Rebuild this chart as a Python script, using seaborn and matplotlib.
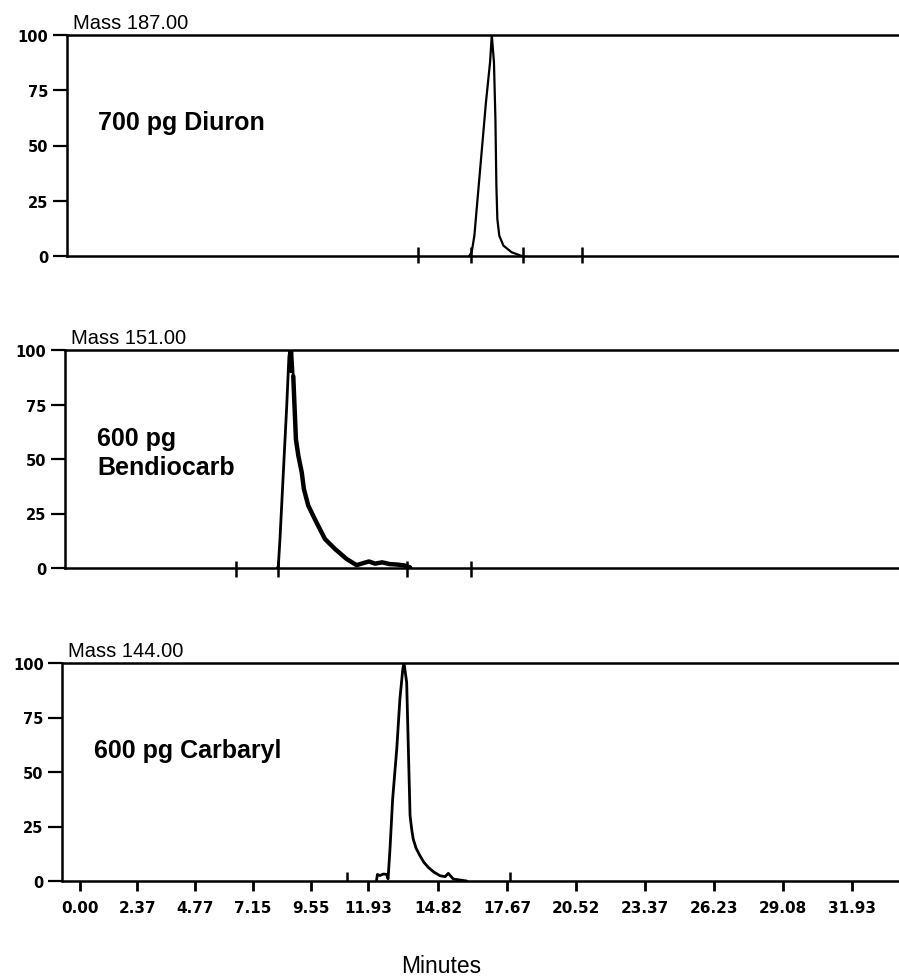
import matplotlib
matplotlib.use("Agg")
import matplotlib.pyplot as plt
import numpy as np
import pandas as pd
import seaborn as sns

# ---------------- data (minutes, relative abundance %) ----------------
diuron_t = [16.10, 16.20, 16.31, 16.43, 16.61, 16.79, 16.96, 17.03, 17.12,
            17.18, 17.22, 17.26, 17.34, 17.51, 17.85, 18.27]
diuron_i = [0, 1.8, 9.2, 24.4, 47, 69.7, 87.8, 100, 87.6,
            62, 31.8, 16.7, 9.2, 4.7, 1.7, 0.0]

bendio_t = [8.15, 8.20, 8.27, 8.41, 8.55, 8.64, 8.68, 8.72, 8.76,
            8.82, 8.88, 8.93, 9.03, 9.17, 9.26, 9.44, 9.78, 10.13, 10.55,
            11.03, 11.44, 11.70, 11.95, 12.20, 12.50, 12.80, 13.10, 13.40, 13.65]
bendio_i = [0, 0.5, 13.3, 43.9, 74.5, 97, 100, 90, 100,
            88, 72, 59, 51.5, 43.9, 36.2, 28.6, 20.9, 13.3, 8.7,
            4.1, 1.3, 2.2, 3.0, 2.0, 2.6, 1.8, 1.6, 1.2, 0.3]

carb_t = [12.26, 12.30, 12.40, 12.55, 12.68, 12.74, 12.82, 12.93, 13.10,
          13.23, 13.35, 13.40, 13.51, 13.58, 13.65, 13.72, 13.78, 13.90, 14.06,
          14.22, 14.40, 14.62, 14.89, 15.10, 15.23, 15.44, 15.99]
carb_i = [0, 3.0, 2.5, 3.2, 3.0, 1.0, 14.7, 37.6, 60.6,
          83.5, 97.2, 100, 91.1, 60.6, 30, 23.5, 19.3, 15.0, 11.6,
          8.6, 6.3, 4.2, 2.4, 2.0, 3.5, 0.9, 0]

# scan markers drawn across the baseline
top_marks = [13.99, 16.17, 18.33, 20.77]
mid_marks = [6.45, 8.18, 13.51, 16.17]
bot_marks = [11.03, 17.80]

titles = ["Mass 187.00", "Mass 151.00", "Mass 144.00"]
y_ticks = [0, 25, 50, 75, 100]
y_labels = ["0", "25", "50", "75", "100"]
x_ticks = [0.00, 2.37, 4.77, 7.15, 9.55, 11.93, 14.82, 17.67, 20.52, 23.37, 26.23, 29.08, 31.93]
x_labels = ["0.00", "2.37", "4.77", "7.15", "9.55", "11.93", "14.82", "17.67",
            "20.52", "23.37", "26.23", "29.08", "31.93"]

# ---------------- style ----------------
sns.set_theme(style="ticks")
plt.rcParams["font.family"] = ["Liberation Sans", "DejaVu Sans"]
plt.rcParams["text.color"] = "black"
plt.rcParams["axes.edgecolor"] = "black"
plt.rcParams["xtick.color"] = "black"
plt.rcParams["ytick.color"] = "black"

W, H = 899, 978
fig = plt.figure(figsize=(W / 100, H / 100), dpi=100)

zero_px = 80.0
px_per_min = 24.18
right_min = (W - zero_px) / px_per_min

# (left_px, top_px, bottom_px)
layout = [(67, 36, 257), (65, 351, 569), (62.5, 664, 882)]
series = [(diuron_t, diuron_i), (bendio_t, bendio_i), (carb_t, carb_i)]

axes = []
for k, ((lp, tp, bp), (t, i)) in enumerate(zip(layout, series)):
    ax = fig.add_axes([lp / W, 1 - bp / H, (W - lp) / W, (bp - tp) / H])
    axes.append(ax)
    df = pd.DataFrame({"t": t, "i": i})
    sns.lineplot(data=df, x="t", y="i", ax=ax, color="black",
                 lw=1.6 if k == 0 else 2.0, estimator=None, sort=False)
    ax.set_xlim((lp - zero_px) / px_per_min, right_min)
    ax.set_ylim(0, 100)
    ax.set_xlabel("")
    ax.set_ylabel("")
    ax.spines["right"].set_visible(False)
    for s in ["left", "bottom", "top"]:
        ax.spines[s].set_linewidth(1.8)
        ax.spines[s].set_color("black")
    ax.set_yticks(y_ticks)
    ax.set_yticklabels(y_labels, fontfamily="DejaVu Sans", fontweight="bold", fontsize=10.5)
    ax.tick_params(axis="y", length=10, width=1.6, pad=3.5, direction="out")
    ax.text(0.007, 1.03, titles[k], transform=ax.transAxes, fontsize=14.5,
            ha="left", va="baseline")

# Bendiocarb noisy tail drawn thicker
tail = pd.DataFrame({"t": bendio_t, "i": bendio_i})
tail = tail[(tail.t >= 8.82) & (tail.t <= 13.65)]
sns.lineplot(data=tail, x="t", y="i", ax=axes[1], color="black", lw=3.2,
             estimator=None, sort=False)
axes[1].set_xlabel("")
axes[1].set_ylabel("")

# x ticks
for ax in axes[:2]:
    ax.set_xticks([])
ax = axes[2]
ax.set_xticks(x_ticks)
ax.set_xticklabels(x_labels, fontfamily="DejaVu Sans", fontweight="bold", fontsize=11)
ax.tick_params(axis="x", length=7, width=2, pad=6.5, direction="out")

# scan markers
axes[0].vlines(top_marks, -3, 4, color="black", lw=1.8, clip_on=False)
axes[1].vlines(mid_marks, -4, 3, color="black", lw=1.8, clip_on=False)
axes[2].vlines(bot_marks, 0, 4, color="black", lw=1.8, clip_on=False)

# compound labels
lab_kw = dict(fontsize=18, fontweight="bold", ha="left", va="baseline")
axes[0].text(0.74, 57.5, "700 pg Diuron", **lab_kw)
axes[1].text(0.70, 56.4, "600 pg", **lab_kw)
axes[1].text(0.70, 43.1, "Bendiocarb", **lab_kw)
axes[2].text(0.56, 56.7, "600 pg Carbaryl", **lab_kw)

fig.text(441 / W, 5 / H, "Minutes", ha="center", va="baseline", fontsize=16.5)

fig.savefig("out.png", dpi=100)
